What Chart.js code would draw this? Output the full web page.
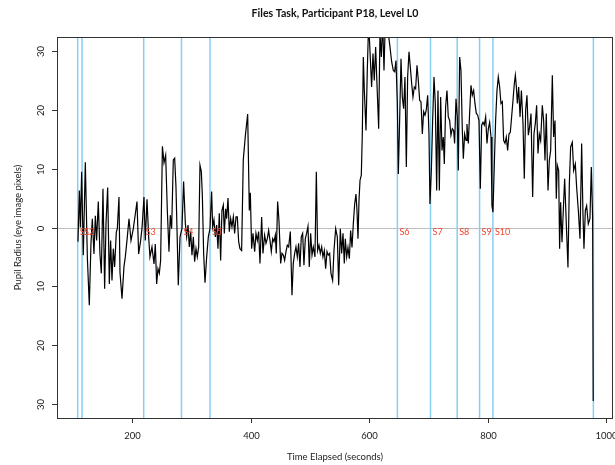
<!DOCTYPE html>
<html>
<head>
<meta charset="utf-8">
<script src="https://cdn.jsdelivr.net/npm/chart.js@4/dist/chart.umd.min.js"></script>
<style>
html,body{margin:0;padding:0;background:#fff;}
canvas{display:block;}
</style>
</head>
<body>
<canvas id="c" width="615" height="465"></canvas>
<script>
const chartTitle = 'Files Task, Participant P18, Level L0';
const xTitle = 'Time Elapsed (seconds)';
const yTitle = 'Pupil Radius (eye image pixels)';

const times = [
108,110.3,112,114.2,117,120.4,123.8,127.1,129.9,132.2,135,137.3,139.5,142.3,145.1,147.4,150.2,153,155.3,158.1,
160.9,163.1,165.4,167.6,169.9,172.7,174.4,177.2,178.9,182.3,185.6,187.9,191.3,194.1,197.5,201.4,204.8,207.6,210.4,213.8,
216,219.4,221.6,224.5,227.3,229.5,232.9,236.3,238.5,240.8,243,245.3,247.5,250.5,253.2,256,258.8,261.6,263.8,266.1,
268.9,271.2,273.4,275.7,277.3,280.2,283.5,286.3,289.2,291.4,293.7,295.9,298.2,300.4,302.7,304.9,307.2,309.4,311.7,313.9,
316.2,317.9,320.1,322.4,325.2,328,330.8,333.6,335.3,337.5,339.8,342,344.3,346.5,348.8,351,353.3,355,357.2,358.9,
361.2,363.4,365.7,367.9,370.2,372.4,374.7,376.9,379.2,381.4,384.2,387,390.4,394.4,397.2,398.9,401.1,403.4,406.2,408.4,
410.7,412.9,415.2,418,420.2,423,425.3,427.6,429.8,432.1,434.3,436.6,438.8,441.1,442.7,445,447.2,450.1,452.3,454.6,
456.8,459.1,461.3,463.6,466.4,469.2,471.4,473.7,475.9,478.2,480.4,482.7,484.9,487.2,489.4,491.7,493.9,496.2,498.4,500.7,
503,505.2,508,510.3,512.5,514.8,517,519.3,521.5,523.8,526,528.3,530.5,532.8,535,537.8,540.1,542.9,545.7,548,
550.8,553,555.3,557.5,559.2,561.5,563.7,566,568.2,570.5,572.7,575,577.2,578.9,580.6,582.3,584,586.2,587.9,589.6,
591.3,594.1,596.3,598.6,603.6,605.9,608.1,610.4,612.6,615.5,617.7,620,622.2,624.5,626.7,629,631.8,634.6,637.4,640.2,
642.5,644.7,647,648.7,650.9,653.2,655.4,657.7,659.9,662.2,664.4,666.7,668.9,671.2,673.4,675.7,677.9,680.2,682.4,684.7,
686.9,689.2,691.4,693.7,695.9,698.2,700.4,702.1,704.4,706.6,708.9,711.1,713.4,715.6,717.9,720.1,722.4,724.6,726.3,728.5,
730.8,733,735.3,737.5,739.8,742,743.7,746,748.2,749.9,752.2,754.4,756.7,758.4,760.6,762.9,764.5,766.8,769,771.3,
773.5,775.8,778,780.3,782.6,784.8,787.1,789.3,791.6,793.8,796.1,798.3,800.6,802.8,805.1,806.7,808.4,810.7,812.9,815.2,
817.4,819.7,821.9,824.2,826.4,828.7,830.9,833.2,835.4,837.7,839.9,842.2,844.5,846.2,847.9,849.6,851.8,854.1,856.4,859.1,
861.3,863.6,865.8,868.1,870.3,872.6,875.4,877.6,879.9,882.1,884.4,886.6,888.9,891.7,893.9,896.2,898.4,901.3,903.5,905.8,
908.6,910.8,913.1,915.3,917,919.3,920.9,922.6,924.9,927.1,929.4,932.2,935,937.3,939.5,942.3,944.6,947.4,949.6,952.5,
955.3,958.1,960.3,962,964.3,966.5,969.3,972.1,974.4,976.6,977.6
];
const radius = [
-2.4,6.3,0,9.5,-4.7,11.1,-5,-13.2,-2.8,1.5,-4.5,2,-2.2,4.4,-4.5,-7.8,6.6,-10.4,0.6,6.8,
-9.6,-2.2,-9,-3.6,-6.7,-0.8,-0.2,5.2,-7.6,-12.1,-6.7,-5,-1.6,1.5,-2.2,-0.2,2.3,4.4,-4.5,-2.2,
-0.2,5.2,-2.2,4.8,-1.6,-5,-3.3,-6.2,-2.8,-9.6,-7,-7.8,-5.6,13.8,11.0,12.3,2.9,-4.1,2.1,-0.2,
11.5,11.8,6.9,-2.7,-9.8,-1.6,-0.2,7.8,0.7,-1.6,0.4,-3.3,-0.7,-4.7,-1.6,-5.8,-3.6,-5,-3.3,10.6,
9.5,5.5,-4.4,-9.4,-5,-1.6,-0.2,6.1,0.1,1.3,-1.6,0.4,-3.6,2.4,-5.6,2.9,3.8,-1,3.2,1.5,
5,-0.7,1.5,0.1,1.8,-1,1.8,1.8,-2.4,-3.6,-3.9,11.5,15.5,19.3,2.9,5.9,-3.6,-1,-4.1,-1,
-2.2,-0.7,-6.1,1.8,-4.4,-1.3,-2.7,-1.9,-0.5,-2.2,-4.1,-1.9,-2.4,-1.3,-4.4,4.4,1.2,-6.1,-4.4,-4.7,
-5.6,-4.1,-3,-3.3,-0.7,-11.5,-6.1,-4.4,-3.3,-5,-2.7,-6.7,-1.6,-1,-6.4,-1.9,-1,0.2,-6.7,-1,
-4.7,-3.3,-5,9.5,-3.9,-3,-4.4,-3.3,-5,-3.9,-7,-4.1,-4.7,-4.4,-7.8,-9,-3.9,-0.2,-1.6,-9.8,
-0.2,-4.4,-1,-6.1,-1.9,-5,-3.4,-5.3,-0.5,-3.4,0.6,4,5.7,2.9,-1.9,4.6,8,8.9,15.9,29,
23.3,16.5,26.7,35,23.9,29.6,25,30.7,24.5,16.8,33,29,35,26.7,35,36,33,30.7,28.2,26.7,
26.5,28.4,21.1,9.1,18.2,28.7,22.2,20.2,25.6,10.3,25.6,29.9,27.3,24.5,22.2,23.9,23.6,27.6,25,21.6,
21.4,15.9,19.7,19.1,20,22.5,15.9,4,9.7,18.2,25.6,21.1,6.3,23.3,6.3,22.2,13.1,15.4,10.8,20.5,
23.3,18.8,18.2,15.7,16.8,16.5,14.3,21.9,18.8,9.7,29,26.7,16.5,11.7,15.9,14.8,17.6,14.3,19.4,24.2,
22.5,23.3,21.1,19.4,19.1,18.2,6.6,17.4,17.9,17.4,18.8,14.3,16.8,17.9,15.4,3.7,2.6,10.8,18.2,23.3,
25.6,23.9,21.1,21.4,14.8,14.3,15.4,13.1,15.9,16.2,18.8,21.6,24.5,25.9,23.9,21.1,23.9,18.8,23.3,17.7,
8.3,20,22.5,15.7,17.1,19.4,5.2,15.9,17.7,20.8,12.6,15.9,14.8,20.8,18.2,11.4,19.4,6.3,11.4,13.1,
25.9,15.4,18.2,4.9,10.6,9.7,-3.6,4.3,-2.5,2.9,8.3,0.6,-6.8,7.4,13.7,14.5,9.7,10.8,6.9,2.9,
-1.9,14.3,2.3,-3.6,2.9,3.7,0.6,1.5,10.3,1.8,-29.5
];

const eventTimes = [107.5,114.9,218.9,282.7,330.8,647.1,703.0,748.0,785.8,808.3,977.9];
const eventLabels = ['S1','S2','S3','S4','S5','S6','S7','S8','S9','S10',''];

const xTicks = [200,400,600,800,1000];
const yTicks = [-30,-20,-10,0,10,20,30];
const yTickLabels = ['30','20','10','0','10','20','30'];

const FONT = 'Lato, "Open Sans", sans-serif';

const decor = {
  id: 'decor',
  beforeDatasetsDraw(chart) {
    const {ctx, chartArea: a, scales: {x, y}} = chart;
    ctx.save();
    const y0 = Math.round(y.getPixelForValue(0)) + 0.5;
    ctx.strokeStyle = '#bdbdbd';
    ctx.lineWidth = 1;
    ctx.beginPath(); ctx.moveTo(a.left, y0); ctx.lineTo(a.right, y0); ctx.stroke();
    ctx.strokeStyle = 'rgb(135,206,240)';
    ctx.lineWidth = 1.5;
    eventTimes.forEach(t => {
      const px = x.getPixelForValue(t);
      ctx.beginPath(); ctx.moveTo(px, a.top); ctx.lineTo(px, a.bottom); ctx.stroke();
    });
    ctx.restore();
  },
  afterDatasetsDraw(chart) {
    const {ctx, chartArea: a, scales: {x, y}} = chart;
    ctx.save();
    ctx.fillStyle = '#f4432c';
    ctx.font = '9px ' + FONT;
    ctx.textAlign = 'left';
    ctx.textBaseline = 'middle';
    const ly = y.getPixelForValue(0) + 5;
    eventTimes.forEach((t, i) => {
      if (!eventLabels[i]) return;
      ctx.fillText(eventLabels[i], x.getPixelForValue(t) + 2, ly);
    });
    ctx.strokeStyle = '#333';
    ctx.lineWidth = 1;
    ctx.strokeRect(Math.round(a.left) + 0.5, Math.round(a.top) + 0.5,
                   Math.round(a.right - a.left) - 1, Math.round(a.bottom - a.top));
    ctx.fillStyle = '#222';
    ctx.font = '9.5px ' + FONT;
    ctx.textAlign = 'center';
    ctx.textBaseline = 'middle';
    xTicks.forEach(v => {
      const px = Math.round(x.getPixelForValue(v)) + 0.5;
      ctx.beginPath(); ctx.moveTo(px, a.bottom); ctx.lineTo(px, a.bottom + 5); ctx.stroke();
      ctx.fillText(String(v), px, a.bottom + 18);
    });
    yTicks.forEach((v, i) => {
      const py = Math.round(y.getPixelForValue(v)) + 0.5;
      ctx.beginPath(); ctx.moveTo(a.left, py); ctx.lineTo(a.left - 5, py); ctx.stroke();
      ctx.save();
      ctx.translate(a.left - 16, py);
      ctx.rotate(-Math.PI / 2);
      ctx.fillText(yTickLabels[i], 0, 0);
      ctx.restore();
    });
    ctx.font = 'bold 10.6px ' + FONT;
    ctx.fillStyle = '#111';
    ctx.fillText(chartTitle, (a.left + a.right) / 2, 14);
    ctx.font = '9.5px ' + FONT;
    ctx.fillStyle = '#222';
    ctx.fillText(xTitle, (a.left + a.right) / 2, 457);
    ctx.save();
    ctx.translate(18, (a.top + a.bottom) / 2);
    ctx.rotate(-Math.PI / 2);
    ctx.fillText(yTitle, 0, 0);
    ctx.restore();
    ctx.restore();
  }
};

new Chart(document.getElementById('c'), {
  type: 'line',
  data: {
    datasets: [{
      data: times.map((t, i) => ({x: t, y: radius[i]})),
      borderColor: '#000',
      borderWidth: 1.2,
      pointRadius: 0,
      tension: 0,
      clip: 0
    }]
  },
  options: {
    responsive: false,
    animation: false,
    devicePixelRatio: 1,
    layout: {padding: {top: 37, left: 0, right: 2, bottom: 0}},
    plugins: {legend: {display: false}, tooltip: {enabled: false}, title: {display: false}},
    scales: {
      x: {
        type: 'linear', min: 72.6, max: 1011,
        grid: {display: false}, border: {display: false},
        ticks: {display: false},
        afterFit(s) { s.height = 47; s.paddingLeft = 0; s.paddingRight = 0; }
      },
      y: {
        type: 'linear', min: -32.4, max: 32.4,
        grid: {display: false}, border: {display: false},
        ticks: {display: false},
        afterFit(s) { s.width = 57; s.paddingTop = 0; s.paddingBottom = 0; }
      }
    }
  },
  plugins: [decor]
});
</script>
</body>
</html>
